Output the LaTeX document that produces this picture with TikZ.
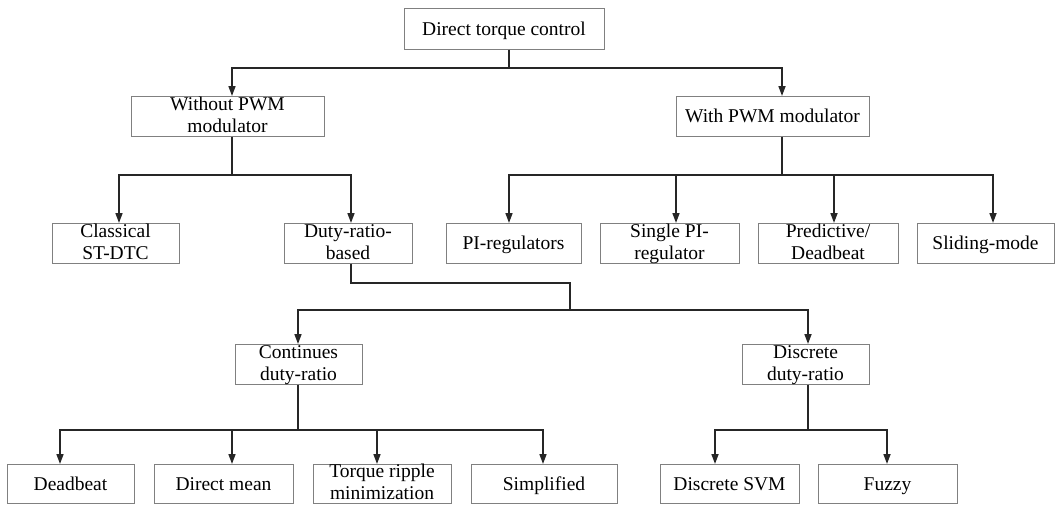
\documentclass[tikz,border=0pt]{standalone}
\usepackage{fontspec}
\setmainfont{Liberation Serif}
\usetikzlibrary{arrows.meta}
\definecolor{boxline}{HTML}{808080}
\definecolor{connline}{HTML}{262626}
\begin{document}
\begin{tikzpicture}[x=1pt,y=-1pt,
  box/.style={draw=boxline, line width=1pt, inner sep=0pt, align=center,
    font=\fontsize{19.5}{22}\selectfont, minimum height=40pt},
  one/.style={box, text height=13pt, text depth=0pt},
  two/.style={box, text height=34pt, text depth=2pt},
  conn/.style={draw=connline, line width=1.6pt},
  arr/.style={conn, -{Triangle[length=10pt,width=7pt]}}]
\useasboundingbox (0,0) rectangle (1060,504);
% nodes
\node[one, minimum width=200pt, minimum height=41pt] (dtc) at (504,28.5) {Direct torque control};
\node[two, minimum width=193pt] (wo) at (227.5,116) {Without PWM\\modulator};
\node[one, minimum width=193pt] (wi) at (772.5,116) {With PWM modulator};
\node[two, minimum width=127pt] (cls) at (115.5,243) {Classical\\ST-DTC};
\node[two, minimum width=128pt] (drb) at (348,243) {Duty-ratio-\\based};
\node[one, minimum width=135pt] (pir) at (513.5,243) {PI-regulators};
\node[two, minimum width=139pt] (spi) at (669.5,243) {Single PI-\\regulator};
\node[two, minimum width=140pt] (pre) at (828,243) {Predictive/\\Deadbeat};
\node[one, minimum width=137pt] (sli) at (985.5,243) {Sliding-mode};
\node[two, minimum width=127pt] (con) at (298.5,364) {Continues\\duty-ratio};
\node[two, minimum width=127pt] (dis) at (805.5,364) {Discrete\\duty-ratio};
\node[one, minimum width=127pt, minimum height=39pt] (dea) at (70.5,483.5) {Deadbeat};
\node[one, minimum width=139pt, minimum height=39pt] (dme) at (223.5,483.5) {Direct mean};
\node[two, minimum width=138pt, minimum height=39pt] (trm) at (382,483.5) {Torque ripple\\minimization};
\node[one, minimum width=146pt, minimum height=39pt] (sim) at (544,483.5) {Simplified};
\node[one, minimum width=139pt, minimum height=39pt] (dsv) at (729.5,483.5) {Discrete SVM};
\node[one, minimum width=139pt, minimum height=39pt] (fuz) at (887.5,483.5) {Fuzzy};
% junctions and entry points
\coordinate (j1) at (509,68);
\coordinate (j2) at (232,175);
\coordinate (j3) at (782,175);
\coordinate (k1) at (351,283);
\coordinate (k2) at (570,283);
\coordinate (j4) at (570,310);
\coordinate (j5) at (298,430);
\coordinate (j6) at (808,430);
\coordinate (wo-in) at (232,96);
\coordinate (wi-in) at (782,96);
\coordinate (cls-in) at (119,223);
\coordinate (drb-in) at (351,223);
\coordinate (pir-in) at (509,223);
\coordinate (spi-in) at (676,223);
\coordinate (pre-in) at (834,223);
\coordinate (sli-in) at (993,223);
\coordinate (con-in) at (298,344);
\coordinate (dis-in) at (808,344);
\coordinate (dea-in) at (60,464);
\coordinate (dme-in) at (232,464);
\coordinate (trm-in) at (377,464);
\coordinate (sim-in) at (543,464);
\coordinate (dsv-in) at (715,464);
\coordinate (fuz-in) at (887,464);
% connectors
\draw[conn] (dtc.south -| j1) -- (j1);
\draw[arr] (j1) -| (wo-in);
\draw[arr] (j1) -| (wi-in);
\draw[conn] (wo.south -| j2) -- (j2);
\draw[arr] (j2) -| (cls-in);
\draw[arr] (j2) -| (drb-in);
\draw[conn] (wi.south -| j3) -- (j3);
\draw[arr] (j3) -| (pir-in);
\draw[arr] (j3) -| (spi-in);
\draw[arr] (j3) -| (pre-in);
\draw[arr] (j3) -| (sli-in);
\draw[conn] (drb.south -| k1) -- (k1) -- (k2) -- (j4);
\draw[arr] (j4) -| (con-in);
\draw[arr] (j4) -| (dis-in);
\draw[conn] (con.south -| j5) -- (j5);
\draw[arr] (j5) -| (dea-in);
\draw[arr] (j5) -| (dme-in);
\draw[arr] (j5) -| (trm-in);
\draw[arr] (j5) -| (sim-in);
\draw[conn] (dis.south -| j6) -- (j6);
\draw[arr] (j6) -| (dsv-in);
\draw[arr] (j6) -| (fuz-in);
\end{tikzpicture}
\end{document}
